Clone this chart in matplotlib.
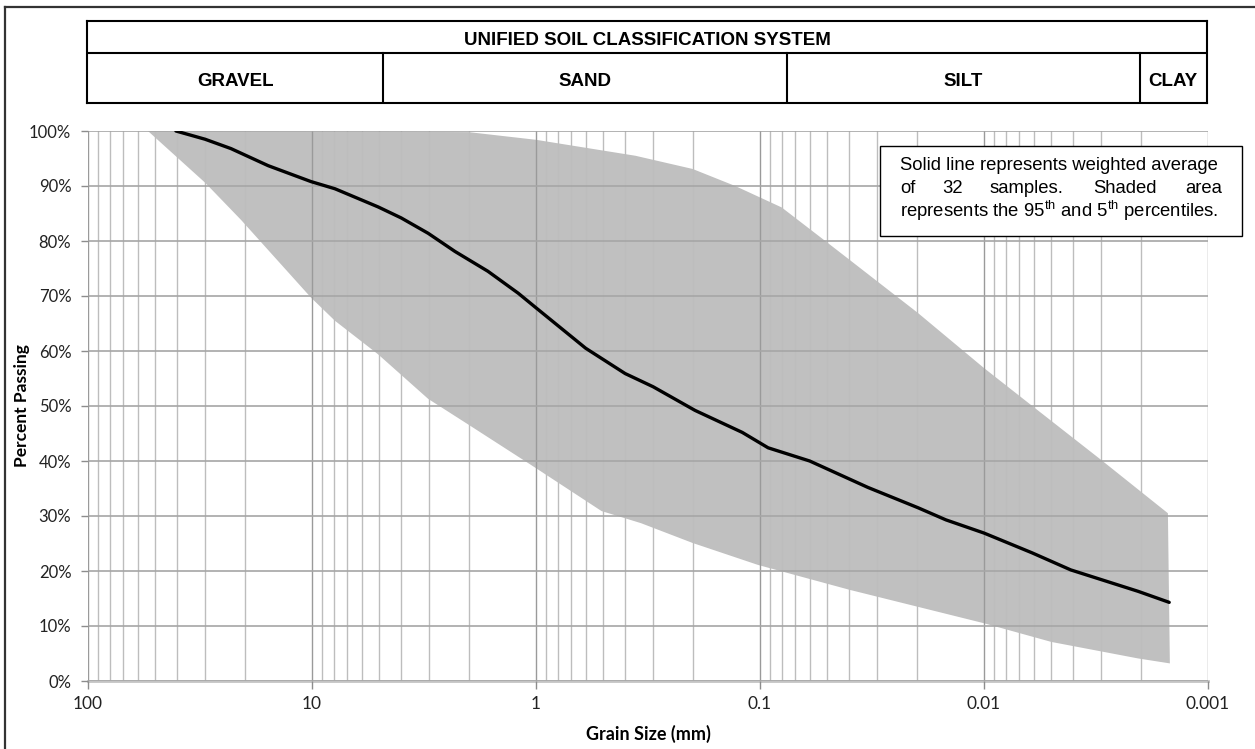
import numpy as np
import matplotlib
matplotlib.use("Agg")
import matplotlib.pyplot as plt
from matplotlib.patches import Rectangle
from matplotlib.lines import Line2D
from matplotlib.ticker import FixedLocator, FuncFormatter, NullFormatter

plt.rcParams['font.family'] = ['Liberation Sans', 'DejaVu Sans']
plt.rcParams['mathtext.fontset'] = 'custom'
plt.rcParams['mathtext.rm'] = 'Liberation Sans'

# Data (grain size in mm, percent passing)

avg_size = [40.5, 30.0, 23.0, 15.7, 10.1, 7.9, 5.07, 4.0, 3.03, 2.30, 1.64, 1.20, 1.01,
            0.60, 0.40, 0.30, 0.195, 0.120, 0.092, 0.060, 0.033, 0.0197, 0.0148, 0.0100,
            0.0061, 0.0041, 0.00205, 0.00149]
avg_pass = [100, 98.5, 96.8, 93.7, 90.8, 89.5, 86.2, 84.2, 81.4, 78.1, 74.5, 70.5, 68.0,
            60.5, 55.9, 53.5, 49.2, 45.2, 42.4, 40.0, 35.2, 31.5, 29.3, 26.9,
            23.3, 20.2, 16.3, 14.3]

p95_size = [54, 2.0, 1.0, 0.36, 0.20, 0.129, 0.080, 0.050, 0.0396, 0.0197, 0.0100,
            0.0060, 0.0030, 0.00151]
p95_pass = [100, 99.8, 98.4, 95.5, 93.1, 90.0, 86.1, 79.7, 76.5, 66.9, 56.9,
            49.8, 40.2, 30.5]

p5_size = [54, 30.0, 20.7, 10.1, 7.9, 5.07, 3.03, 2.0, 1.0, 0.51, 0.34, 0.20, 0.102,
           0.040, 0.0100, 0.0050, 0.00205, 0.00148]
p5_pass = [100, 90.6, 83.8, 69.7, 65.5, 59.4, 51.3, 46.6, 38.7, 30.9, 28.7, 25.1, 21.1,
           16.6, 10.5, 7.1, 4.1, 3.2]

x_ticks = [100, 10, 1, 0.1, 0.01, 0.001]
y_ticks = [0, 10, 20, 30, 40, 50, 60, 70, 80, 90, 100]

# USCS boundaries (mm)
soil_names = ["GRAVEL", "SAND", "SILT", "CLAY"]
soil_bounds = [100, 4.75, 0.075, 0.002, 0.001]

W, H = 1255, 749


def fx(x):
    return x / W


def fy(y):
    return 1 - y / H


fig = plt.figure(figsize=(W / 100, H / 100), dpi=100)

# Main chart

ax = fig.add_axes([fx(88), fy(681), fx(1208) - fx(88), fy(131) - fy(681)])
ax.set_xscale("log")
ax.set_xlim(100, 0.001)
ax.set_ylim(0, 100)

minor = [m * 10.0 ** e for e in range(-3, 2) for m in range(2, 10)]
ax.xaxis.set_major_locator(FixedLocator(x_ticks))
ax.xaxis.set_minor_locator(FixedLocator(minor))
ax.xaxis.set_major_formatter(FuncFormatter(lambda v, p: "{:g}".format(v)))
ax.xaxis.set_minor_formatter(NullFormatter())
ax.yaxis.set_major_locator(FixedLocator(y_ticks))
ax.yaxis.set_major_formatter(FuncFormatter(lambda v, p: "{:.0f}%".format(v)))

ax.grid(True, which="major", axis="x", color="#9a9a9a", lw=1.0)
ax.grid(True, which="minor", axis="x", color="#bdbdbd", lw=1.0)
ax.grid(True, which="major", axis="y", color="#a6a6a6", lw=1.2)
ax.set_axisbelow(False)

for s in ["top", "right", "left"]:
    ax.spines[s].set_visible(False)
ax.spines["bottom"].set_color("#c4c4c4")
ax.spines["bottom"].set_linewidth(2)

ax.tick_params(axis="x", which="major", direction="out", length=6, width=1,
               color="#8c8c8c", labelsize=12.5, pad=5)
ax.tick_params(axis="x", which="minor", length=0)
ax.tick_params(axis="y", direction="out", length=5, width=1, color="#8c8c8c",
               labelsize=12, pad=7)
for lab in ax.get_xticklabels() + ax.get_yticklabels():
    lab.set_family(["Lato", "DejaVu Sans"])
    lab.set_color("#222222")

# shaded band between percentiles
band_x = np.concatenate([p95_size, p5_size[::-1]])
band_y = np.concatenate([p95_pass, p5_pass[::-1]])
ax.fill(band_x, band_y, color="#c0c0c0", lw=0, zorder=2.5)

ax.plot(avg_size, avg_pass, color="black", lw=2.4, zorder=3,
        solid_joinstyle="round", solid_capstyle="round")

ax.set_xlabel("Grain Size (mm)", family=["Lato", "DejaVu Sans"], fontweight="bold",
              fontsize=13, labelpad=9)
ax.set_ylabel("Percent Passing", family=["Lato", "DejaVu Sans"], fontweight="bold",
              fontsize=12.5)
ax.yaxis.set_label_coords(-0.052, 0.5)

# Header table

hx = fig.add_axes([fx(87), fy(103), fx(1207) - fx(87), fy(21) - fy(103)])
hx.set_xscale("log")
hx.set_xlim(100, 0.001)
hx.set_ylim(0, 1)
hx.set_xticks([])
hx.set_yticks([])
hx.xaxis.set_minor_locator(FixedLocator([]))
for s in hx.spines.values():
    s.set_linewidth(1.5)
row = 0.61
hx.axhline(row, color="black", lw=1.5)
for b in soil_bounds[1:-1]:
    hx.plot([b, b], [0, row], color="black", lw=1.5)
hx.text(0.5, (1 + row) / 2 - 0.02, "UNIFIED SOIL CLASSIFICATION SYSTEM",
        transform=hx.transAxes, ha="center", va="center_baseline",
        fontsize=13.5, fontweight="bold")
for name, a, b in zip(soil_names, soil_bounds[:-1], soil_bounds[1:]):
    hx.text(np.sqrt(a * b), row / 2 - 0.02, name, ha="center", va="center_baseline",
            fontsize=13.5, fontweight="bold")

# Note box

fig.add_artist(Rectangle((fx(880), fy(236)), fx(1242) - fx(880), fy(146) - fy(236),
                         transform=fig.transFigure, facecolor="white",
                         edgecolor="black", lw=1.0, zorder=5))
fs = 13.3
fig.text(fx(900), fy(166), "Solid line represents weighted average", fontsize=fs,
         va="center", zorder=6)
for word, px in [("of", 900), ("32", 942), ("samples.", 990), ("Shaded", 1093)]:
    fig.text(fx(px), fy(189), word, fontsize=fs, va="center", zorder=6)
fig.text(fx(1222), fy(189), "area", fontsize=fs, va="center", ha="right", zorder=6)
fig.text(fx(900), fy(211),
         r"represents the 95$^{\mathrm{th}}$ and 5$^{\mathrm{th}}$ percentiles.",
         fontsize=fs, va="center", zorder=6)

# outer frame
fig.add_artist(Line2D([fx(5), 1], [fy(7), fy(7)], color="#333333", lw=1.6,
                      transform=fig.transFigure))
fig.add_artist(Line2D([fx(5), fx(5)], [0, fy(7)], color="#333333", lw=1.6,
                      transform=fig.transFigure))

fig.savefig("out.png", dpi=100)
